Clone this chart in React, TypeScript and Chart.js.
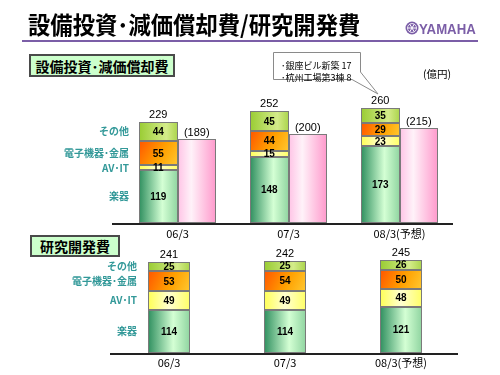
import React, { useEffect, useRef } from "react";
import { Chart, registerables } from "chart.js";

Chart.register(...registerables);

// ---------- data ----------
const categories = ["06/3", "07/3", "08/3(予想)"];
const segmentNames = ["楽器", "AV･IT", "電子機器･金属", "その他"];

// 設備投資 (capex) by segment
const capexGakki = [119, 148, 173];
const capexAvit = [11, 15, 23];
const capexDenshi = [55, 44, 29];
const capexSonota = [44, 45, 35];
const capexTotals = [229, 252, 260];
// 減価償却費 (depreciation)
const depreciation = [189, 200, 215];

// 研究開発費 (R&D) by segment
const rdGakki = [114, 114, 121];
const rdAvit = [49, 49, 48];
const rdDenshi = [53, 54, 50];
const rdSonota = [25, 25, 26];
const rdTotals = [241, 242, 245];

const JP = '"Noto Sans CJK JP", "Noto Sans", sans-serif';
const NUM = '"Liberation Sans", Arial, sans-serif';

const GRAD: Record<string, { stops: [number, string][]; diag?: boolean }> = {
  green: { stops: [[0, "#2f8f5f"], [0.6, "#d4ffd4"], [1, "#8fd4a0"]] },
  yellow: { stops: [[0, "#ffff55"], [0.5, "#ffffd0"], [1, "#ffff66"]] },
  orange: { stops: [[0, "#ff5500"], [0.55, "#ffa000"], [1, "#ffc830"]], diag: true },
  ygreen: { stops: [[0, "#99cc33"], [0.7, "#d4ec8a"], [1, "#aad44a"]] },
  pink: { stops: [[0, "#ffc4e6"], [0.35, "#fff2f9"], [1, "#ff99cc"]] },
};

const gradBars = {
  id: "gradBars",
  beforeDatasetDraw(chart: any, args: any) {
    const ds = chart.data.datasets[args.index];
    const g = GRAD[ds.grad];
    if (!g) return;
    const ctx = chart.ctx;
    ctx.save();
    args.meta.data.forEach((el: any) => {
      const { x, y, base, width } = el.getProps(["x", "y", "base", "width"], true);
      const left = Math.round(x - width / 2);
      const right = Math.round(x + width / 2);
      const top = Math.round(Math.min(y, base));
      const bottom = Math.round(Math.max(y, base));
      const grd = g.diag
        ? ctx.createLinearGradient(left, top, right, bottom)
        : ctx.createLinearGradient(left, 0, right, 0);
      g.stops.forEach(([o, c]) => grd.addColorStop(o, c));
      ctx.fillStyle = grd;
      ctx.fillRect(left, top, right - left, bottom - top);
      ctx.strokeStyle = "#7a7a7a";
      ctx.lineWidth = 1;
      ctx.strokeRect(left + 0.5, top + 0.5, right - left - 1, bottom - top - 1);
    });
    ctx.restore();
    return false;
  },
};

function makeLabels(opts: {
  totals: number[];
  pinkIndex: number | null;
  axisFrom: number;
  axisTo: number;
  catOffset: number;
  leftGap: number;
}) {
  return {
    id: "labels",
    afterDatasetsDraw(chart: any) {
      const ctx = chart.ctx;
      const area = chart.chartArea;
      ctx.save();
      // baseline
      ctx.strokeStyle = "#222";
      ctx.lineWidth = 2;
      ctx.beginPath();
      ctx.moveTo(opts.axisFrom, area.bottom + 1);
      ctx.lineTo(opts.axisTo, area.bottom + 1);
      ctx.stroke();

      ctx.textAlign = "center";
      ctx.textBaseline = "middle";
      // segment values
      for (let d = 0; d < 4; d++) {
        const meta = chart.getDatasetMeta(d);
        const ds = chart.data.datasets[d];
        meta.data.forEach((el: any, i: number) => {
          const { x, y, base } = el.getProps(["x", "y", "base"], true);
          ctx.fillStyle = "#000";
          ctx.font = `bold 10px ${NUM}`;
          ctx.fillText(String(ds.data[i]), x, (y + base) / 2 + 0.5);
        });
      }
      // totals
      const topMeta = chart.getDatasetMeta(3);
      topMeta.data.forEach((el: any, i: number) => {
        const { x, y } = el.getProps(["x", "y"], true);
        ctx.fillStyle = "#000";
        ctx.font = `11px ${NUM}`;
        ctx.fillText(String(opts.totals[i]), x, y - 7);
      });
      // pink (depreciation) labels
      if (opts.pinkIndex !== null) {
        const pm = chart.getDatasetMeta(opts.pinkIndex);
        const pds = chart.data.datasets[opts.pinkIndex];
        pm.data.forEach((el: any, i: number) => {
          const { x, y } = el.getProps(["x", "y"], true);
          ctx.font = `11px ${NUM}`;
          ctx.fillText(`(${pds.data[i]})`, x, y - 6);
        });
      }
      // category labels
      const xs = chart.scales.x;
      ctx.font = `11px ${JP}`;
      categories.forEach((c, i) => {
        ctx.fillText(c, xs.getPixelForValue(i), area.bottom + opts.catOffset);
      });
      // left segment names (teal)
      ctx.textAlign = "right";
      ctx.fillStyle = "#339999";
      ctx.font = `bold 10px ${JP}`;
      for (let d = 0; d < 4; d++) {
        const el = chart.getDatasetMeta(d).data[0];
        const { x, y, base, width } = el.getProps(["x", "y", "base", "width"], true);
        ctx.fillText(segmentNames[d], x - width / 2 - opts.leftGap, (y + base) / 2);
      }
      ctx.restore();
    },
  };
}

function useChart(ref: React.RefObject<HTMLCanvasElement>, build: (c: HTMLCanvasElement) => Chart) {
  useEffect(() => {
    if (!ref.current) return;
    const ch = build(ref.current);
    return () => ch.destroy();
  }, []);
}

export default function App() {
  const topRef = useRef<HTMLCanvasElement>(null);
  const botRef = useRef<HTMLCanvasElement>(null);

  useChart(topRef, (c) =>
    new Chart(c, {
      type: "bar",
      data: {
        labels: categories,
        datasets: [
          { label: segmentNames[0], data: capexGakki, stack: "capex", grad: "green" } as any,
          { label: segmentNames[1], data: capexAvit, stack: "capex", grad: "yellow" } as any,
          { label: segmentNames[2], data: capexDenshi, stack: "capex", grad: "orange" } as any,
          { label: segmentNames[3], data: capexSonota, stack: "capex", grad: "ygreen" } as any,
          { label: "減価償却費", data: depreciation, stack: "dep", grad: "pink" } as any,
        ],
      },
      options: {
        responsive: false,
        animation: false,
        layout: { padding: { left: 122, right: 45, top: 99, bottom: 152 } },
        datasets: { bar: { categoryPercentage: 0.694, barPercentage: 1 } },
        scales: {
          x: { display: false, stacked: true },
          y: { display: false, stacked: true, min: 0, max: 280 },
        },
        plugins: { legend: { display: false }, tooltip: { enabled: false } },
      },
      plugins: [
        gradBars,
        makeLabels({ totals: capexTotals, pinkIndex: 4, axisFrom: 112, axisTo: 453, catOffset: 11, leftGap: 10 }),
      ],
    })
  );

  useChart(botRef, (c) =>
    new Chart(c, {
      type: "bar",
      data: {
        labels: categories,
        datasets: [
          { label: segmentNames[0], data: rdGakki, stack: "rd", grad: "green" } as any,
          { label: segmentNames[1], data: rdAvit, stack: "rd", grad: "yellow" } as any,
          { label: segmentNames[2], data: rdDenshi, stack: "rd", grad: "orange" } as any,
          { label: segmentNames[3], data: rdSonota, stack: "rd", grad: "ygreen" } as any,
        ],
      },
      options: {
        responsive: false,
        animation: false,
        layout: { padding: { left: 111, right: 41, top: 247, bottom: 22 } },
        datasets: { bar: { categoryPercentage: 0.362, barPercentage: 1 } },
        scales: {
          x: { display: false, stacked: true },
          y: { display: false, stacked: true, min: 0, max: 280 },
        },
        plugins: { legend: { display: false }, tooltip: { enabled: false } },
      },
      plugins: [
        gradBars,
        makeLabels({ totals: rdTotals, pinkIndex: null, axisFrom: 110, axisTo: 458, catOffset: 10, leftGap: 11 }),
      ],
    })
  );

  const abs = (s: React.CSSProperties): React.CSSProperties => ({ position: "absolute", ...s });
  const purple = "#7b5ea7";

  return (
    <div style={abs({ left: 0, top: 0, width: 500, height: 375, background: "#fff", overflow: "hidden", fontFamily: JP })}>
      <canvas ref={topRef} width={500} height={375} style={abs({ left: 0, top: 0 })} />
      <canvas ref={botRef} width={500} height={375} style={abs({ left: 0, top: 0 })} />

      <div style={abs({ left: 28, top: 12, fontSize: 24, lineHeight: "24px", fontWeight: 700, color: "#000", whiteSpace: "nowrap", transform: "scaleX(0.93)", transformOrigin: "0 0" })}>
        設備投資･減価償却費/研究開発費
      </div>
      <div style={abs({ left: 22, top: 40, width: 456, height: 2, background: purple })} />

      <svg width={14} height={14} style={abs({ left: 405, top: 21 })} viewBox="0 0 14 14">
        <circle cx={7} cy={7} r={6.5} fill={purple} />
        <circle cx={7} cy={7} r={4.5} fill="none" stroke="#fff" strokeWidth={0.8} />
        {[0, 60, 120, 180, 240, 300].map((a) => (
          <line key={a} x1={7} y1={7} x2={7 + 4.5 * Math.cos((a * Math.PI) / 180)} y2={7 + 4.5 * Math.sin((a * Math.PI) / 180)} stroke="#fff" strokeWidth={1} />
        ))}
      </svg>
      <div style={abs({ left: 419, top: 20, fontFamily: NUM, fontWeight: 700, fontSize: 15, lineHeight: "17px", color: purple, transform: "scaleX(0.88)", transformOrigin: "0 0", whiteSpace: "nowrap" })}>
        YAMAHA
      </div>

      <div style={abs({ left: 29, top: 54, width: 146, height: 23, boxSizing: "border-box", background: "#ccffcc", border: "2px solid #4a4a4a", display: "flex", alignItems: "center", justifyContent: "center", fontSize: 14, fontWeight: 700, lineHeight: "14px", whiteSpace: "nowrap" })}>
        設備投資･減価償却費
      </div>
      <div style={abs({ left: 30, top: 235, width: 90, height: 22, boxSizing: "border-box", background: "#ccffcc", border: "2px solid #4a4a4a", display: "flex", alignItems: "center", justifyContent: "center", fontSize: 14, fontWeight: 700, lineHeight: "14px", whiteSpace: "nowrap" })}>
        研究開発費
      </div>

      <svg width={500} height={120} style={abs({ left: 0, top: 0 })}>
        <polygon points="273.5,52.5 360.5,52.5 360.5,72 378,94 352,79.5 273.5,79.5" fill="#fff" stroke="#8a8a8a" strokeWidth={1} />
      </svg>
      <div style={abs({ left: 281, top: 60, fontSize: 9, lineHeight: "12px", whiteSpace: "pre", color: "#000" })}>
        {"･銀座ビル新築 17\n･杭州工場第3棟 8"}
      </div>
      <div style={abs({ left: 423, top: 68, fontSize: 10.5, lineHeight: "12px", whiteSpace: "nowrap" })}>(億円)</div>
    </div>
  );
}
